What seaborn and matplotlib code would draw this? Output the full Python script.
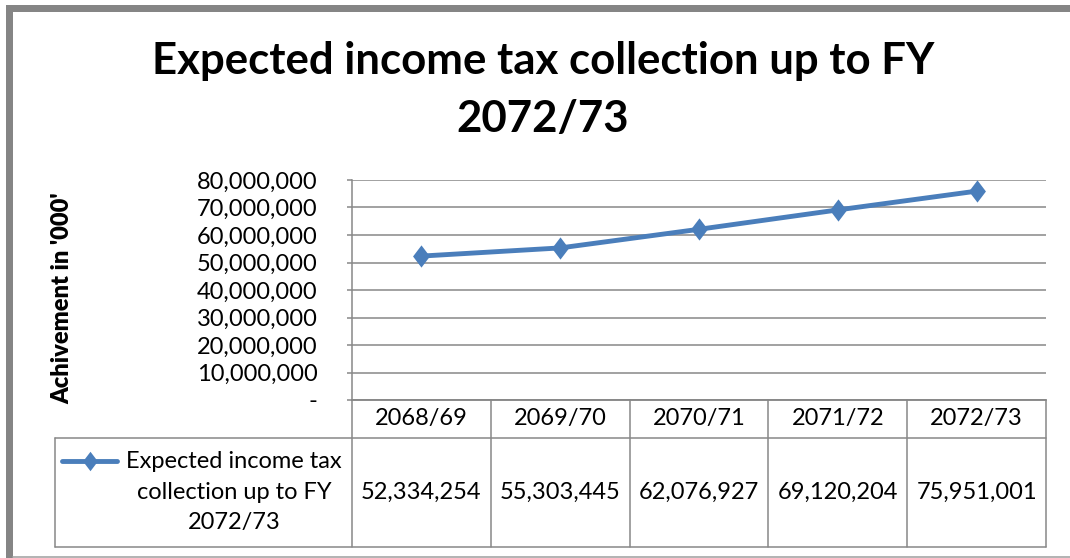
import matplotlib
matplotlib.use("Agg")
import matplotlib.pyplot as plt
from matplotlib.lines import Line2D
from matplotlib.patches import Rectangle
from matplotlib.text import Text
from matplotlib.ticker import FuncFormatter
import matplotlib.transforms as mtransforms
import seaborn as sns
import pandas as pd

# Data
years = ["2068/69", "2069/70", "2070/71", "2071/72", "2072/73"]
collection = [52334254, 55303445, 62076927, 69120204, 75951001]
legend_lines = ["Expected income tax", "collection up to FY", "2072/73"]
title_lines = ["Expected income tax collection up to FY", "2072/73"]
y_label = "Achivement in '000'"
y_ticks = [0, 10000000, 20000000, 30000000, 40000000, 50000000, 60000000, 70000000, 80000000]

df = pd.DataFrame({"pos": range(len(years)), "year": years, "value": collection})

sns.set_theme(style="white")
plt.rcParams["font.family"] = ["Lato", "DejaVu Sans"]

W, H = 1070, 558
fig = plt.figure(figsize=(W / 100, H / 100), dpi=100)
fig.patch.set_facecolor("white")


def fx(px):
    return px / W


def fy(py):
    return 1 - py / H


GRID = "#888888"
BLUE = "#4A7EBB"
TXT = 17

# plot area
ax = fig.add_axes([fx(352), fy(400), fx(1046) - fx(352), fy(180) - fy(400)])
ax.set_facecolor("white")

diamond = [(0, 1), (0.76, 0), (0, -1), (-0.76, 0), (0, 1)]
sns.lineplot(data=df, x="pos", y="value", ax=ax, color=BLUE, linewidth=3.5,
             marker=diamond, markersize=16, markeredgewidth=0, legend=False)

ax.set_xlim(-0.5, len(years) - 0.5)
ax.set_ylim(0, 80000000)
ax.set_yticks(y_ticks)
ax.yaxis.set_major_formatter(FuncFormatter(lambda v, p: "-" if v == 0 else f"{int(v):,}"))
ax.set_xticks([])
ax.set_xlabel("")
ax.set_ylabel("")
ax.grid(axis="y", color=GRID, linewidth=1.1)
ax.set_axisbelow(True)
for side in ["top", "right"]:
    ax.spines[side].set_visible(False)
for side in ["left", "bottom"]:
    ax.spines[side].set_color(GRID)
    ax.spines[side].set_linewidth(1.1)
ax.tick_params(axis="y", which="major", left=True, length=3.6, width=1.1,
               color=GRID, pad=21, labelsize=TXT, labelcolor="black")

# y axis title
fig.text(fx(62), fy(298), y_label, rotation=90, ha="center", va="center",
         fontsize=17, fontweight="heavy", color="black")

# chart title
fig.text(fx(543), fy(61), title_lines[0], ha="center", va="center",
         fontsize=31.5, fontweight="bold", color="black")
fig.text(fx(543), fy(119), title_lines[1], ha="center", va="center",
         fontsize=31.5, fontweight="bold", color="black")

# data table aligned with the category positions of the plot
blend = mtransforms.blended_transform_factory(ax.transData, fig.transFigure)
n = len(years)
top_y, mid_y, bot_y = fy(400), fy(438), fy(547)
lw_tab = 1.1
for i in range(n + 1):
    xb = i - 0.5
    fig.add_artist(Line2D([xb, xb], [bot_y, top_y], transform=blend,
                          color=GRID, linewidth=lw_tab))
fig.add_artist(Line2D([-0.5, n - 0.5], [top_y, top_y], transform=blend,
                      color=GRID, linewidth=lw_tab))
fig.add_artist(Line2D([fx(55), fx(1046)], [mid_y, mid_y], transform=fig.transFigure,
                      color=GRID, linewidth=lw_tab))
fig.add_artist(Line2D([fx(55), fx(1046)], [bot_y, bot_y], transform=fig.transFigure,
                      color=GRID, linewidth=lw_tab))
fig.add_artist(Line2D([fx(55), fx(55)], [bot_y, mid_y], transform=fig.transFigure,
                      color=GRID, linewidth=lw_tab))

for i, (yr, val) in enumerate(zip(years, collection)):
    fig.add_artist(Text(i, fy(419), yr, transform=blend, ha="center", va="center",
                        fontsize=TXT, color="black"))
    fig.add_artist(Text(i, fy(492), f"{val:,}", transform=blend, ha="center", va="center",
                        fontsize=TXT, color="black"))

# legend key inside the table
fig.add_artist(Line2D([fx(62), fx(117)], [fy(461), fy(461)], transform=fig.transFigure,
                      color=BLUE, linewidth=3.5, solid_capstyle="round"))
fig.add_artist(Line2D([fx(89.5)], [fy(461)], transform=fig.transFigure, color=BLUE,
                      marker=diamond, markersize=14, markeredgewidth=0, linestyle="none"))
for k, line in enumerate(legend_lines):
    fig.text(fx(234), fy(462 + 30.5 * k), line, ha="center", va="center",
             fontsize=TXT, color="black")

# chart frame
fig.add_artist(Rectangle((fx(6), 0), fx(7), fy(5), transform=fig.transFigure,
                         facecolor="#858585", edgecolor="none"))
fig.add_artist(Rectangle((fx(6), fy(12)), 1 - fx(6), fy(5) - fy(12), transform=fig.transFigure,
                         facecolor="#858585", edgecolor="none"))
fig.add_artist(Line2D([fx(13), 1], [fy(556.5), fy(556.5)], transform=fig.transFigure,
                      color="#a6a6a6", linewidth=1.2))

fig.savefig("out.png", dpi=100, facecolor="white")
